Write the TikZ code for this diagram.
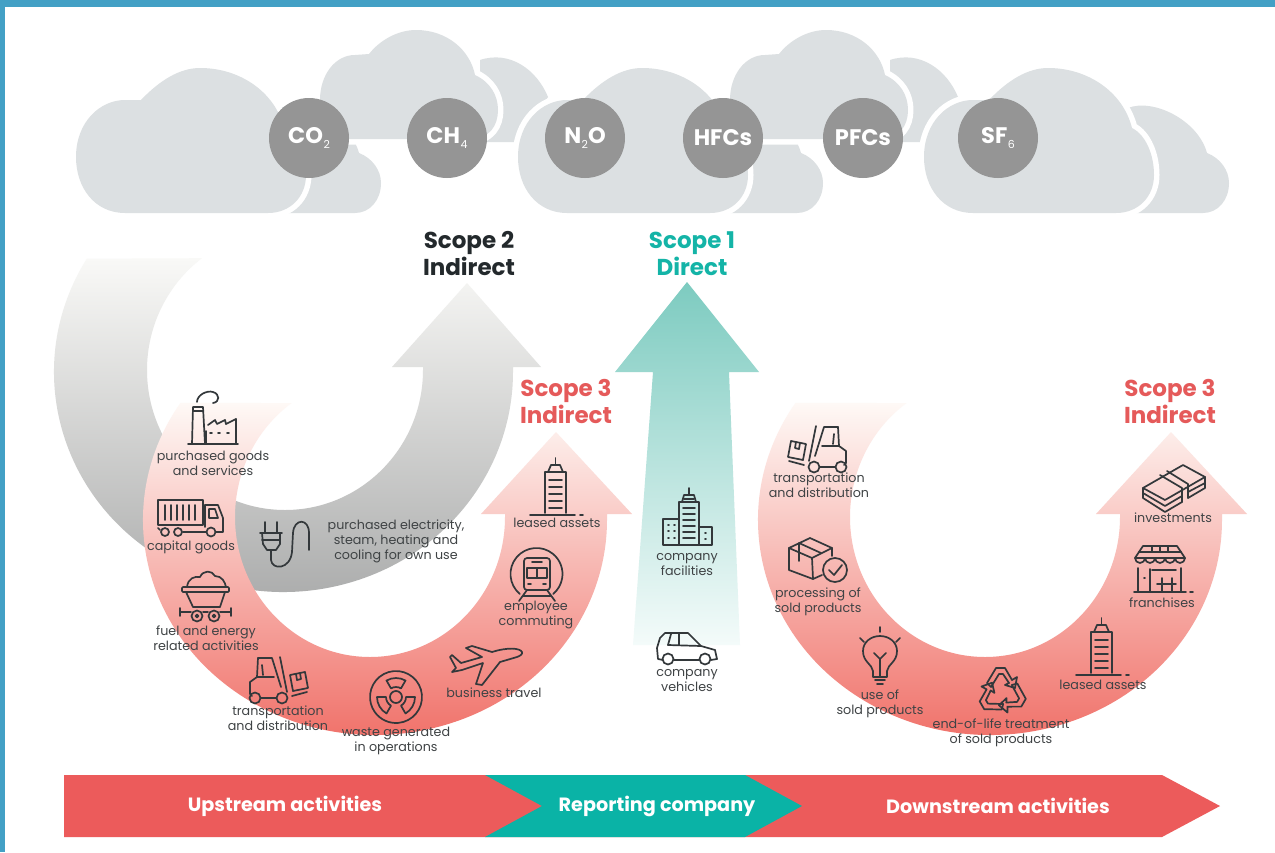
\documentclass[tikz,border=0pt]{standalone}
\usepackage{fontspec}
\setmainfont{Poppins}
\definecolor{topbar}{HTML}{43A0C5}
\definecolor{cloudc}{HTML}{DCE0E2}
\definecolor{gasc}{HTML}{959595}
\definecolor{redc}{HTML}{EC5B5B}
\definecolor{tealc}{HTML}{0AB3A6}
\definecolor{iconc}{HTML}{33383B}
\definecolor{labelc}{HTML}{3F4345}
\definecolor{scopetwo}{HTML}{23292C}
\definecolor{scopeone}{HTML}{14B4A7}
\definecolor{scopethree}{HTML}{E55A5A}
\definecolor{ringmid}{HTML}{F6BFB4}
\definecolor{ringbot}{HTML}{EF675F}
\definecolor{ringtop}{HTML}{FEF9F6}
\definecolor{graybot}{HTML}{A6A7A7}
\definecolor{graymid}{HTML}{C6C7C7}
\definecolor{graytop}{HTML}{F9F9F7}
\definecolor{arrowtop}{HTML}{7DCBC0}
\definecolor{arrowbot}{HTML}{F4FBFA}
\newcommand{\gassub}[1]{\kern0.5pt\raisebox{-5pt}{\fontsize{11}{11}\selectfont\mdseries #1}}
\tikzset{
  cloudfront/.style={fill=cloudc,preaction={draw=white,line width=11pt,line join=round}},
  gas/.style={circle,fill=gasc,minimum size=80pt,inner sep=0pt,text=white,font=\fontsize{22.5}{24}\selectfont\bfseries},
  scopelbl/.style={align=center,inner sep=0pt,font=\fontsize{23}{27}\selectfont\bfseries},
  lbl/.style={align=center,inner sep=0pt,text=labelc,font=\fontsize{12.7}{15}\selectfont},
  barlbl/.style={inner sep=0pt,text=white,font=\fontsize{19.2}{22}\selectfont\bfseries},
  ic/.style={draw=iconc,line width=1.7pt,line join=round,line cap=round},
  redring/.style={insert path={(990,520) ++(213:232 and 215) arc[start angle=213,end angle=0,x radius=232,y radius=215] -- (1222,514) -- (1247,514) -- (1171,432) -- (1096,514) -- (1120,514) -- (1120,517) arc[start angle=0,end angle=234.5,x radius=135,y radius=140] -- cycle}},
  lowerback/.style={insert path={(280,108) .. controls (305,98) and (350,120) .. (359,153) .. controls (372,158) and (381,170) .. (381,183) .. controls (381,200) and (370,213) .. (355,213) -- (280,213) -- cycle}},
  lowerfront/.style={insert path={(125,213) .. controls (95,213) and (76,188) .. (76,157) .. controls (76,122) and (100,100) .. (125,100) -- (141,100) .. controls (160,80) and (180,68) .. (200,68) .. controls (240,68) and (275,92) .. (284,128) .. controls (298,135) and (306,155) .. (306,175) .. controls (306,197) and (290,213) .. (268,213) -- cycle}},
  upperback/.style={insert path={(480,60) .. controls (510,50) and (537,70) .. (548,97) -- (520,142) -- (480,142) -- cycle}},
  upperfront/.style={insert path={(320,139) -- (320,100) .. controls (320,75) and (335,55) .. (355,55) -- (369,54) .. controls (380,40) and (398,30) .. (416,30) .. controls (447,30) and (470,50) .. (475,75) .. controls (490,82) and (498,95) .. (498,110) .. controls (498,125) and (490,139) .. (470,139) -- cycle}},
}
\newcommand{\tallbuilding}{%
  \draw[ic] (545,513) -- (545,472) -- (566,472) -- (566,513);
  \draw[ic] (548,472) -- (551,465) -- (560,465) -- (563,472);
  \draw[ic] (555.5,458) -- (555.5,465);
  \draw[ic] (530,515) -- (575,515) (580,515) -- (583,515);
  \foreach \yy in {480,487,494,501,508} \draw[ic] (549,\yy) -- (562,\yy);
}
\newcommand{\forklift}{%
  \draw[ic] (258,658) -- (272,658) -- (281,687);
  \draw[ic] (258,658) -- (257,677) -- (250,682) -- (250,694) -- (252,696);
  \draw[ic] (257,677) -- (274,677);
  \draw[ic] (261,698) -- (276,698);
  \draw[ic] (280,657) -- (287,692);
  \draw[ic] (262,665) -- (263,675);
  \draw[ic] (255,698) circle[radius=5.5] (282,698) circle[radius=5.5];
  \draw[ic] (290,675) -- (305,672) -- (308,688) -- (293,691) -- cycle;
  \draw[ic] (296,674) -- (297,680) -- (301,679) -- (300,673);
  \draw[ic] (292,696) -- (307,692);
}
\begin{document}
\begin{tikzpicture}[x=1pt,y=-1pt]
\useasboundingbox (0,0) rectangle (1275,852);
\fill[white] (0,0) rectangle (1275,852);
\fill[topbar] (0,0) rectangle (1275,7);
\fill[topbar] (0,0) rectangle (5,852);
% clouds
\foreach \sh in {0,442,848} \fill[cloudc,shift={(\sh,0)},lowerback];
\foreach \sh in {0,410} \fill[cloudc,shift={(\sh,0)},upperback];
\foreach \sh in {0,410} \fill[cloudfront,shift={(\sh,0)},upperfront];
\foreach \sh in {0,442,848} \fill[cloudfront,shift={(\sh,0)},lowerfront];
\node[gas] (co) at (309,138) {CO\gassub{2}};
\node[gas] (ch) at (447,138) {CH\gassub{4}};
\node[gas] (no) at (585,138) {N\gassub{2}O};
\node[gas] (hf) at (723,138) {HFCs};
\node[gas] (pf) at (863,138) {PFCs};
\node[gas] (sf) at (998,138) {SF\gassub{6}};
% scope labels
\node[scopelbl,text=scopetwo] (s2) at (469,253.5) {Scope 2\\Indirect};
\node[scopelbl,text=scopeone] (s1) at (692,253.5) {Scope 1\\Direct};
\node[scopelbl,text=scopethree] (s3a) at (566,401.5) {Scope 3\\Indirect};
\node[scopelbl,text=scopethree] (s3b) at (1170,401.5) {Scope 3\\Indirect};
% scope 2 ring
\shade[top color=graytop,middle color=graymid,bottom color=graybot]
  (283.5,372) ++(211:229.5 and 220) arc[start angle=211,end angle=0,x radius=229.5,y radius=220]
  -- (513,367) -- (541,367) -- (467,283) -- (392,367) -- (423,367) -- (423,370)
  arc[start angle=0,end angle=233,x radius=138,y radius=140] -- cycle;
% scope 3 rings
\begin{scope}[xshift=-615pt]
\shade[top color=ringtop,middle color=ringmid,bottom color=ringbot,redring];
\end{scope}
\shade[top color=ringtop,middle color=ringmid,bottom color=ringbot,redring];
% scope 1 arrow
\shade[top color=arrowtop,bottom color=arrowbot]
  (687,282) -- (759,372) -- (729,372) -- (740,645) -- (633,645) -- (653,372) -- (615,372) -- cycle;
% bottom bar
\fill[redc] (64,775) -- (1162,775) -- (1220,806) -- (1162,837) -- (64,837) -- cycle;
\fill[tealc] (485,775) -- (745,775) -- (802,806) -- (745,837) -- (485,837) -- (542,806) -- cycle;
\node[barlbl] (up) at (285,806) {Upstream activities};
\node[barlbl] (rep) at (657,806) {Reporting company};
\node[barlbl] (down) at (998,806) {Downstream activities};
% labels
\node[lbl] (l1) at (213,463.5) {purchased goods\\and services};
\node[lbl] (l2) at (191,547) {capital goods};
\node[lbl] (l3) at (396,541) {purchased electricity,\\steam, heating and\\cooling for own use};
\node[lbl] (l4) at (557,523) {leased assets};
\node[lbl] (l5) at (536,615) {employee\\commuting};
\node[lbl] (l6) at (206,638.5) {fuel and energy\\related activities};
\node[lbl] (l7) at (278,718.5) {transportation\\and distribution};
\node[lbl] (l8) at (396,740.5) {waste generated\\in operations};
\node[lbl] (l9) at (494,693) {business travel};
\node[lbl] (l10) at (687,564.5) {company\\facilities};
\node[lbl] (l11) at (687,680.5) {company\\vehicles};
\node[lbl] (r1) at (819,485.5) {transportation\\and distribution};
\node[lbl] (r2) at (818,601.5) {processing of\\sold products};
\node[lbl] (r3) at (880,703.5) {use of\\sold products};
\node[lbl] (r4) at (1001,733) {end-of-life treatment\\of sold products};
\node[lbl] (r5) at (1103,685) {leased assets};
\node[lbl] (r6) at (1162,603) {franchises};
\node[lbl] (r7) at (1173,518) {investments};
% factory
\draw[ic] (188,444) -- (238,444);
\draw[ic] (192,444) -- (193,407) -- (203,407) -- (205,444);
\draw[ic] (193,411) -- (203,411);
\draw[ic] (206,444) -- (206,431) (236,419) -- (236,444);
\draw[ic] (208,425) -- (215,420) -- (217,424) -- (225,420) -- (226,424) -- (236,419);
\draw[ic] (210,433) -- (212,433) (218,433) -- (220,433) (227,433) -- (229,433);
\draw[ic] (197,402) .. controls (197,395) and (207,390) .. (213,392) .. controls (220,394) and (220,402) .. (213,403);
% truck
\draw[ic] (158,500) rectangle (203,525);
\foreach \xx in {165,171,177,183,189,195} \draw[ic] (\xx,505) -- (\xx,520);
\draw[ic] (205,505) -- (218,505) -- (223,518) -- (223,532) -- (216,532);
\draw[ic] (205,505) -- (205,527);
\draw[ic] (209,509) -- (215,509) -- (218,518) -- (209,518) -- cycle;
\draw[ic] (158,528) -- (160,530);
\draw[ic] (183,532) -- (206,532);
\draw[ic] (165,532) circle[radius=4] (178,532) circle[radius=4] (211,532) circle[radius=4.5];
% plug
\draw[ic] (265,522) -- (265,532) (277,522) -- (277,532);
\draw[ic] (260,533) -- (282,533) (262,540) -- (280,540);
\draw[ic] (262,533) -- (263,544) -- (267,550) -- (276,550) -- (280,544) -- (280,533);
\draw[ic] (271,550) -- (271,560) .. controls (272,570) and (290,570) .. (292,552) -- (293,533) .. controls (294,518) and (309,518) .. (309,533) -- (309,550);
% tall buildings
\tallbuilding
\begin{scope}[shift={(546,160)}]
\tallbuilding
\end{scope}
% train
\draw[ic] (536.5,574) ++(130:26) arc[start angle=130,end angle=410,radius=26];
\draw[ic,rounded corners=3pt] (524,558) rectangle (550,590);
\draw[ic] (532,562) -- (542,562);
\draw[ic] (527,568) rectangle (547,578);
\draw[ic] (537,568) -- (537,578);
\draw[ic] (528,584) -- (531,584) (543,584) -- (546,584);
\draw[ic] (527,590) -- (519,601) (547,590) -- (555,601) (523,596) -- (551,596);
% cart
\draw[ic,rounded corners=1pt] (182,587) rectangle (229,592);
\draw[ic] (186,592) -- (193,607) -- (220,607) -- (225,592);
\draw[ic] (187,587) .. controls (188,578) and (195,576) .. (200,577) .. controls (203,570) and (212,570) .. (215,576) .. controls (222,576) and (225,582) .. (226,587);
\draw[ic] (197,616) circle[radius=5.5] (214,616) circle[radius=5.5];
\draw[ic] (197,616) circle[radius=1.5] (214,616) circle[radius=1.5];
\draw[ic] (180,612) -- (191,612) (203,612) -- (208,612) (220,612) -- (231,612) (180,608) -- (180,616) (231,608) -- (231,616);
% forklifts
\forklift
\begin{scope}[shift={(1096,-231)},xscale=-1]
\forklift
\end{scope}
% radiation
\draw[ic] (396,697) ++(175:26) arc[start angle=175,end angle=545,radius=26];
\draw[ic] (396,697) circle[radius=6];
\foreach \aa in {270,30,150}
  \draw[ic] (396,697) ++(\aa-30:10) arc[start angle=\aa-30,end angle=\aa+30,radius=10] -- ++(\aa+30:9) arc[start angle=\aa+30,end angle=\aa-30,radius=19] -- cycle;
% plane
\draw[ic] (522,652) .. controls (520,648) and (508,647) .. (492,652) -- (472,646) -- (466,648) -- (482,657) -- (461,663) -- (452,655) -- (450,657) -- (456,668) -- (452,672) -- (462,670) -- (483,663) -- (476,684) -- (482,685) -- (500,662) -- (517,657) .. controls (520,656) and (523,654) .. (522,652) -- cycle;
% company buildings
\draw[ic] (679,545) -- (679,502) -- (699,502) -- (699,545);
\draw[ic] (682,502) -- (684,495) -- (694,495) -- (696,502);
\draw[ic] (689,488) -- (689,495) (684,499) -- (694,499);
\foreach \yy in {508,514,520,526,532,538} \draw[ic] (683,\yy) -- (695,\yy);
\draw[ic] (678,519) -- (663,519) -- (663,545) (700,527) -- (712,527) -- (712,545) (663,545) -- (712,545);
\foreach \xx in {668,674} \foreach \yy in {525,531,538} \draw[ic] (\xx,\yy) -- (\xx+1,\yy);
\foreach \yy in {533,539} \draw[ic] (705,\yy) -- (706,\yy);
% car
\draw[ic] (663,660) -- (658,659) -- (657,648) -- (660,638) -- (665,633) -- (688,633) -- (701,646) -- (715,650) -- (717,659) -- (711,660);
\draw[ic] (674,660) -- (699,660);
\draw[ic] (668,645) -- (701,646);
\draw[ic] (668,645) -- (671,634) (679,633) -- (679,645);
\draw[ic] (668,659) circle[radius=5.5] (705,659) circle[radius=5.5];
% box with check
\draw[ic] (812,558) -- (789,548) -- (810,538) -- (832,548) -- cycle;
\draw[ic] (789,548) -- (789,570) -- (813,579) -- (812,558);
\draw[ic] (832,548) -- (832,556) (813,579) -- (822,575);
\draw[ic] (799,543) -- (821,553) (799,543) -- (799,561);
\draw[ic] (835,570) circle[radius=12];
\draw[ic] (829,570) -- (834,575) -- (842,565);
% bulb
\draw[ic] (873,677) -- (873,671) .. controls (872,664) and (863,662) .. (863,651) .. controls (863,642) and (871,636) .. (880,636) .. controls (889,636) and (897,642) .. (897,651) .. controls (897,662) and (888,664) .. (887,671) -- (887,677) -- cycle;
\draw[ic] (875,680) -- (885,680) (877,684) -- (883,684);
\draw[ic] (880,677) -- (880,659) (874,653) -- (880,659) -- (886,653);
\draw[ic] (880,627) -- (880,632) (860,638) -- (864,642) (900,638) -- (896,642);
% recycling
\begin{scope}[shift={(1002,692)}]
\foreach \rr in {0,120,240}
\draw[ic,rotate=\rr] (-15,-9) -- (-6,-24) -- (3,-24) -- (10,-12) -- (15,-15) -- (13,-4) -- (3,-7) -- (7,-9) -- (1,-18) -- (-3,-18) -- (-11,-5) -- cycle;
\end{scope}
% store
\draw[ic] (1143,546) -- (1177,546) -- (1185,558) -- (1135,558) -- cycle;
\draw[ic] (1139,552) -- (1181,552);
\foreach \xx in {1152,1160,1168} \draw[ic] (\xx,546) -- (\xx,552);
\foreach \xx in {1135,1145,1155,1165,1175}
  \draw[ic] (\xx,558) arc[start angle=180,end angle=0,radius=5];
\draw[ic] (1138,568) -- (1138,592) (1181,568) -- (1181,592);
\draw[ic] (1150,592) -- (1150,569);
\draw[ic] (1144,578) -- (1145,578);
\draw[ic] (1152,570) -- (1176,570);
\draw[ic] (1157,584) -- (1176,584) (1162,578) -- (1162,592) (1172,578) -- (1172,592);
\draw[ic] (1134,592) -- (1186,592) (1190,592) -- (1193,592);
% money
\draw[ic] (1143,488) -- (1183,465) -- (1205,477) -- (1165,500) -- cycle;
\draw[ic] (1143,488) -- (1143,493) -- (1165,506) -- (1182,496);
\draw[ic] (1143,493) -- (1143,498) -- (1165,512) -- (1182,502);
\draw[ic] (1205,477) -- (1205,488) -- (1188,498) (1205,483) -- (1188,492);
\draw[ic] (1160,475) -- (1182,488) -- (1182,502) (1167,471) -- (1188,484) -- (1188,498);
\end{tikzpicture}
\end{document}
